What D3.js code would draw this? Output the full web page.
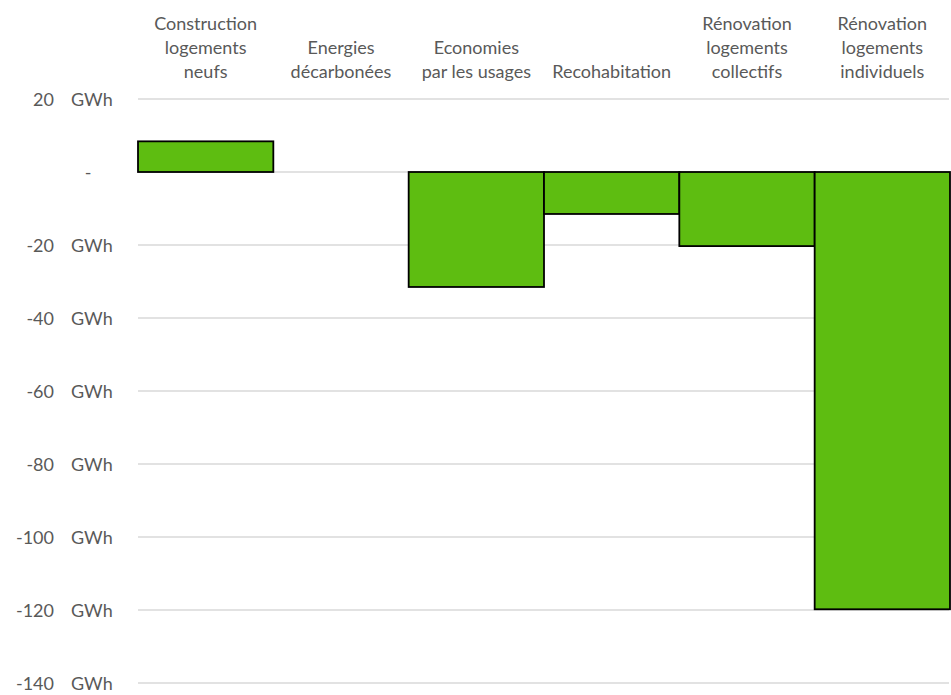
<!DOCTYPE html>
<html>
<head>
<meta charset="utf-8">
<script src="https://cdn.jsdelivr.net/npm/d3@7"></script>
<style>
  html, body { margin: 0; padding: 0; background: #fff; }
  svg text { font-family: Lato, "Open Sans", sans-serif; fill: #595959; }
</style>
</head>
<body>
<svg id="chart" width="951" height="695"></svg>
<script>
// Energy consumption variation by lever (GWh)
const categories = [
  ["Construction", "logements", "neufs"],
  ["Energies", "décarbonées"],
  ["Economies", "par les usages"],
  ["Recohabitation"],
  ["Rénovation", "logements", "collectifs"],
  ["Rénovation", "logements", "individuels"]
];
const values = [8.4, 0, -31.5, -11.5, -20.3, -119.8];
const tickValues = [20, 0, -20, -40, -60, -80, -100, -120, -140];

const svg = d3.select("#chart");
const plotLeft = 138, plotRight = 950, plotTop = 99, plotBottom = 683;
const fontSize = 18;

const x = d3.scaleBand()
  .domain(d3.range(categories.length))
  .range([plotLeft, plotRight])
  .padding(0);

const y = d3.scaleLinear()
  .domain([-140, 20])
  .range([plotBottom, plotTop]);

// horizontal gridlines
svg.append("g")
  .selectAll("line")
  .data(tickValues)
  .join("line")
  .attr("x1", plotLeft).attr("x2", plotRight - 1)
  .attr("y1", d => y(d)).attr("y2", d => y(d))
  .attr("stroke", "#d9d9d9")
  .attr("stroke-width", 1.3);

// y-axis labels in accounting style: number right-aligned, unit in its own column
const yl = svg.append("g").attr("font-size", fontSize);
tickValues.forEach(v => {
  if (v === 0) {
    yl.append("text").attr("x", 88).attr("y", y(v) + 6.5).attr("text-anchor", "middle").text("-");
  } else {
    yl.append("text").attr("x", 54).attr("y", y(v) + 6.5).attr("text-anchor", "end").text(v);
    yl.append("text").attr("x", 71).attr("y", y(v) + 6.5).text("GWh");
  }
});

// bars (a zero value draws nothing)
const barData = values.map((v, i) => ({ i, v })).filter(d => d.v !== 0);
svg.append("g")
  .selectAll("rect")
  .data(barData)
  .join("rect")
  .attr("x", d => x(d.i))
  .attr("y", d => y(Math.max(0, d.v)))
  .attr("width", x.bandwidth())
  .attr("height", d => Math.abs(y(d.v) - y(0)))
  .attr("fill", "#5ebd11")
  .attr("stroke", "#000")
  .attr("stroke-width", 1.8);

// category labels, bottom-aligned above the plot
const lineH = 24, lastBaseline = 78;
const cl = svg.append("g").attr("font-size", fontSize).attr("text-anchor", "middle");
categories.forEach((lines, i) => {
  const cx = x(i) + x.bandwidth() / 2;
  lines.forEach((t, j) => {
    cl.append("text")
      .attr("x", cx)
      .attr("y", lastBaseline - (lines.length - 1 - j) * lineH)
      .text(t);
  });
});
</script>
</body>
</html>
